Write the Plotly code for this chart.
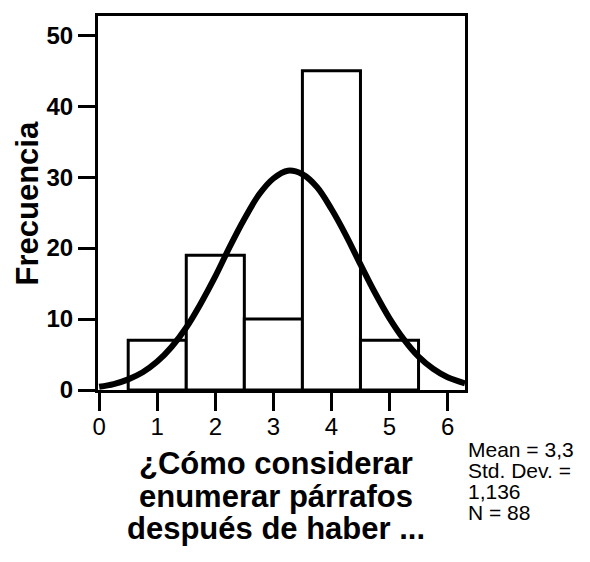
import plotly.graph_objects as go

# histogram counts per answer value
categorias = [1, 2, 3, 4, 5]
frecuencias = [7, 19, 10, 45, 7]

# normal curve
curva_x = [0, 0.25, 0.5, 0.75, 1, 1.25, 1.5, 1.75, 2, 2.25, 2.5, 2.75, 3, 3.25,
           3.5, 3.75, 4, 4.25, 4.5, 4.75, 5, 5.25, 5.5, 5.75, 6, 6.3]
curva_y = [0.45, 0.84, 1.5, 2.5, 4.0, 6.1, 8.8, 12.2, 16.0, 20.2, 24.1, 27.5, 29.8, 30.9,
           30.4, 28.6, 25.5, 21.8, 17.7, 13.7, 10.1, 7.1, 4.7, 3.0, 1.8, 0.95]

x_ticks = [0, 1, 2, 3, 4, 5, 6]
y_ticks = [0, 10, 20, 30, 40, 50]

titulo_x = ["¿Cómo considerar", "enumerar párrafos", "después de haber ..."]
estadisticos = ["Mean = 3,3", "Std. Dev. =", "1,136", "N = 88"]

# plot area in page pixels (page has an 8px body offset)
X0, X1, Y0, Y1 = 98, 465, 13, 390


def px_x(p):
    return (p - X0) / (X1 - X0)


def px_y(p):
    return (Y1 - p) / (Y1 - Y0)


fig = go.Figure()
fig.add_trace(go.Bar(x=categorias, y=frecuencias, width=1,
                     marker=dict(color="white", line=dict(color="black", width=3))))
fig.add_trace(go.Scatter(x=curva_x, y=curva_y, mode="lines",
                         line=dict(color="black", width=6, shape="spline")))

font_family = "Liberation Sans, Arial, sans-serif"
fig.update_layout(
    width=590, height=562,
    margin=dict(l=X0 - 8, r=590 - (X1 - 8), t=Y0 - 8, b=562 - (Y1 - 8)),
    paper_bgcolor="white", plot_bgcolor="white",
    showlegend=False,
    font=dict(family=font_family, color="black"),
)
fig.update_xaxes(range=[-0.02, 6.3], tickvals=x_ticks, ticks="outside", ticklen=18, tickwidth=3,
                 tickcolor="black", showline=True, linecolor="black", linewidth=3, mirror=True,
                 showgrid=False, zeroline=False, ticklabelstandoff=-5,
                 tickfont=dict(size=24, color="black"))
fig.update_yaxes(range=[0, 52.7], tickvals=y_ticks, ticks="outside", ticklen=17, tickwidth=3,
                 tickcolor="black", showline=True, linecolor="black", linewidth=3, mirror=True,
                 showgrid=False, zeroline=False,
                 tickfont=dict(size=24, color="black", weight="bold"))

# y axis title
fig.add_annotation(text="<b>Frecuencia</b>", textangle=-90, xref="paper", yref="paper",
                   x=px_x(27), y=px_y(202), xanchor="center", yanchor="middle",
                   showarrow=False, font=dict(size=31))

# x axis title, line by line
for i, linea in enumerate(titulo_x):
    fig.add_annotation(text="<b>" + linea + "</b>", xref="paper", yref="paper",
                       x=px_x(276), y=px_y(464 + i * 33), xanchor="center", yanchor="middle",
                       showarrow=False, font=dict(size=31))

# stats box
for i, linea in enumerate(estadisticos):
    fig.add_annotation(text=linea, xref="paper", yref="paper",
                       x=px_x(466), y=px_y(450 + i * 21), xanchor="left", yanchor="middle",
                       showarrow=False, font=dict(size=21))

fig.write_html("out.html")
